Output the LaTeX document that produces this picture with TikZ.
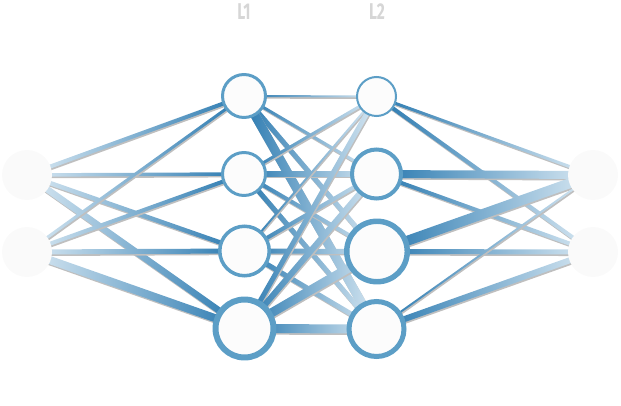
\documentclass[tikz,border=0pt]{standalone}
\usepackage{fontspec}
\newfontfamily\layerfont[FakeStretch=0.68]{Fira Sans}
\usetikzlibrary{calc, backgrounds}

\definecolor{wiredark}{RGB}{40,120,175}
\definecolor{wirelight}{RGB}{218,233,243}
\definecolor{unitblue}{RGB}{92,158,198}
\definecolor{unitfill}{RGB}{252,252,252}
\definecolor{portfill}{RGB}{250,250,250}
\definecolor{labelgray}{RGB}{214,214,214}

\tikzset{
  unit/.style = {circle, draw=unitblue, fill=unitfill, inner sep=0pt},
  port/.style = {circle, fill=portfill, inner sep=0pt, minimum size=1cm},
  layer/.style = {text=labelgray, font=\layerfont\bfseries\fontsize{13}{14}\selectfont},
  fadein/.style = {left color=wirelight, right color=wiredark},
  fadeout/.style = {left color=wiredark, right color=wirelight}
}

% weighted wire between two named nodes, width in px
\newcommand\wire[4]{%
  \fill[black!25, transform canvas={shift={(0.5pt,-0.9pt)}}]
    ($(#2)!#4*0.2845pt!90:(#3)$) -- ($(#3)!#4*0.2845pt!-90:(#2)$)
    -- ($(#3)!#4*0.2845pt!90:(#2)$) -- ($(#2)!#4*0.2845pt!-90:(#3)$) -- cycle;
  \shade[#1]
    ($(#2)!#4*0.2845pt!90:(#3)$) -- ($(#3)!#4*0.2845pt!-90:(#2)$)
    -- ($(#3)!#4*0.2845pt!90:(#2)$) -- ($(#2)!#4*0.2845pt!-90:(#3)$) -- cycle;
}

\begin{document}
\begin{tikzpicture}[x=0.02cm, y=-0.02cm]

  \useasboundingbox (0,0) rectangle (621,405);

  % Layer labels
  \node[layer] (lab1) at (244,12) {L1};
  \node[layer] (lab2) at (377,12) {L2};

  % Inputs
  \node[port] (in1) at (27,175) {};
  \node[port] (in2) at (27,252) {};

  % Hidden layer L1
  \node[unit, line width=1.7pt, minimum size=0.86cm] (l1a) at (244,96) {};
  \node[unit, line width=1.7pt, minimum size=0.86cm] (l1b) at (244,174) {};
  \node[unit, line width=2pt, minimum size=0.99cm] (l1c) at (244.5,251) {};
  \node[unit, line width=3.4pt, minimum size=1.16cm] (l1d) at (244.5,328.5) {};

  % Hidden layer L2
  \node[unit, line width=1.14pt, minimum size=0.78cm] (l2a) at (376.5,96.5) {};
  \node[unit, line width=2.28pt, minimum size=0.98cm] (l2b) at (376.5,174) {};
  \node[unit, line width=3.1pt, minimum size=1.21cm] (l2c) at (377,251.5) {};
  \node[unit, line width=2.85pt, minimum size=1.1cm] (l2d) at (376.5,329) {};

  % Outputs
  \node[port] (out1) at (593,175) {};
  \node[port] (out2) at (593,252) {};

  \begin{scope}[on background layer]
    % Inputs to L1
    \wire{fadein}{in1}{l1a}{4}
    \wire{fadein}{in1}{l1b}{3.5}
    \wire{fadein}{in1}{l1c}{4.5}
    \wire{fadein}{in1}{l1d}{6.5}
    \wire{fadein}{in2}{l1a}{3}
    \wire{fadein}{in2}{l1b}{4}
    \wire{fadein}{in2}{l1c}{5}
    \wire{fadein}{in2}{l1d}{8}

    % L1 to L2
    \wire{fadeout}{l1a}{l2a}{2}
    \wire{fadeout}{l1a}{l2b}{3}
    \wire{fadeout}{l1a}{l2c}{5}
    \wire{fadeout}{l1a}{l2d}{9}
    \wire{fadeout}{l1b}{l2a}{3}
    \wire{fadeout}{l1b}{l2b}{5}
    \wire{fadeout}{l1b}{l2c}{4}
    \wire{fadeout}{l1b}{l2d}{5}
    \wire{fadeout}{l1c}{l2a}{2}
    \wire{fadeout}{l1c}{l2b}{4}
    \wire{fadeout}{l1c}{l2c}{5}
    \wire{fadeout}{l1c}{l2d}{5}
    \wire{fadeout}{l1d}{l2a}{5}
    \wire{fadeout}{l1d}{l2b}{6}
    \wire{fadeout}{l1d}{l2c}{9}
    \wire{fadeout}{l1d}{l2d}{9}

    % L2 to outputs
    \wire{fadeout}{l2a}{out1}{3}
    \wire{fadeout}{l2a}{out2}{4}
    \wire{fadeout}{l2b}{out1}{8}
    \wire{fadeout}{l2b}{out2}{4}
    \wire{fadeout}{l2c}{out1}{10}
    \wire{fadeout}{l2c}{out2}{5}
    \wire{fadeout}{l2d}{out1}{2}
    \wire{fadeout}{l2d}{out2}{6}
  \end{scope}

\end{tikzpicture}
\end{document}
